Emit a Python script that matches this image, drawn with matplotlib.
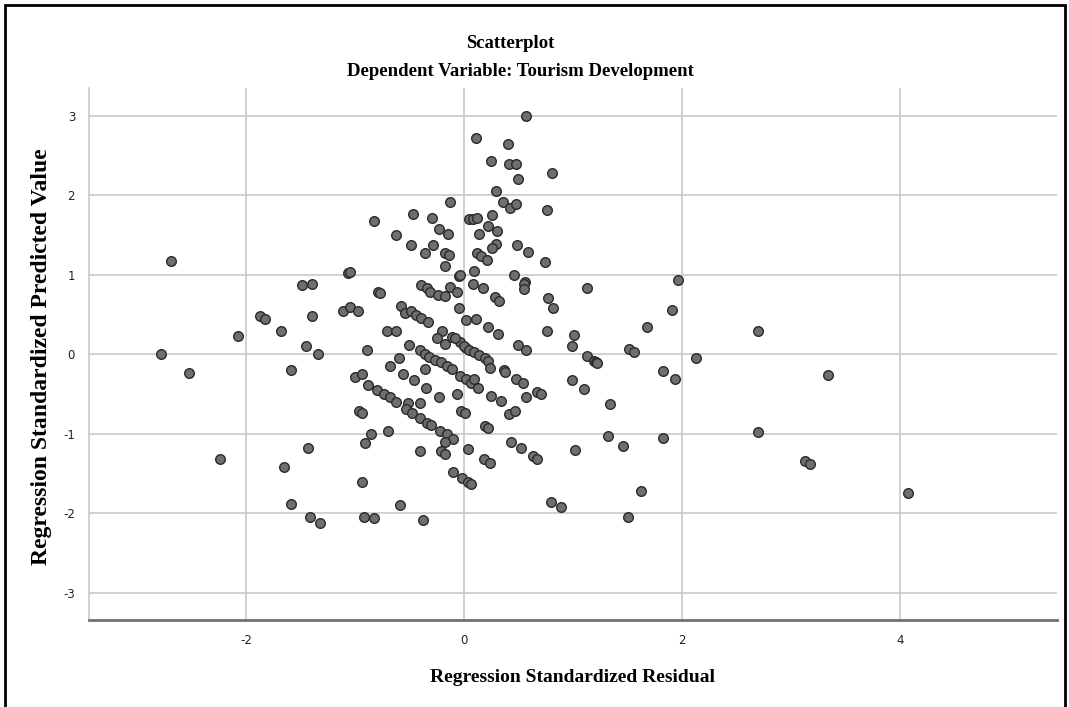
import numpy as np
import matplotlib.pyplot as plt
from matplotlib.patches import Rectangle

plt.rcParams['axes.unicode_minus'] = False

# standardized residual (x) and standardized predicted value (y)
resid = [
    -2.78, -2.69, -2.52, -2.24, -2.07, -1.87, -1.83, -1.68, -1.49, -1.39,
    -1.39, -1.45, -1.34, -1.59, -1.11, -1.06, -1.05, -1.43, -1.65, -1.59,
    -1.41, -1.32,
    -0.13, -0.83, -0.47, -0.29, -0.23, -0.15, -0.62, -0.49, -0.28, -0.36,
    -0.17, -0.14, -0.17, -0.05, -1.05, 0.05,
    0.57, 0.11, 0.40, 0.25, 0.41, 0.48, 0.50, 0.81, 0.29, 0.36,
    0.42, 0.48, 0.76, 0.08, 0.12, 0.26, 0.22, 0.30, 0.14, 0.29,
    0.26, 0.49, 0.59, 0.12, 0.16, 0.21, 0.74, -0.04, 0.09, 0.46,
    0.08, 0.17, 0.56, 0.55, 1.13,
    -0.79, -0.77, -0.97, -0.39, -0.34, -0.31, -0.24, -0.17, -0.13, -0.06,
    -0.05, 0.02, -0.58, -0.54, -0.49, -0.44, -0.39, -0.33, -0.71, -0.62,
    -0.89, -0.50, -0.60, -0.68, -0.40, -0.36, -0.32, -0.27, -0.21, -0.16,
    -0.11, -0.04, 0.02, -0.20, -0.11, -0.17, -0.25, -0.04, 0.02, -0.36,
    -0.56, -0.46, -0.35, -0.23, -0.06, -1.00, -0.94, -0.88, -0.80, -0.73,
    -0.68, -0.62, -0.51, -0.40, -0.96, -0.94,
    0.28, 0.32, 0.55, 0.77, 0.82, 0.11, 0.22, 0.31, 0.76, 1.01,
    0.99, 0.50, 0.57, 1.13, 1.19, -0.08, 0.00, 0.05, 0.09, 0.14,
    0.19, 0.22, 0.24, 0.37, 0.38, 0.48, 0.54, 0.99, 1.10, 0.06,
    0.09, 0.13, 0.25, 0.34, 0.57, 0.67, 0.71,
    -0.53, -0.48, -0.40, -0.34, -0.30, -0.22, -0.16, -0.10, -0.17, -0.03,
    0.01, -0.85, -0.91, -0.70, -0.40, -0.21, -0.17, 0.04, -0.10, -0.02,
    0.04, -0.94, -0.59, -0.92, -0.83, -0.38,
    0.41, 0.47, 0.19, 0.22, 0.43, 0.52, 0.63, 0.67, 0.18, 0.24,
    1.02, 0.06, 0.80, 0.89,
    1.96, 1.91, 1.68, 2.70, 1.21, 1.22, 1.51, 1.56, 2.13, 1.83,
    1.94, 1.34, 1.32, 1.46, 1.83, 2.70, 1.62, 1.50,
    3.34, 3.13, 3.17, 4.07,
]
pred = [
    0.01, 1.18, -0.23, -1.32, 0.23, 0.48, 0.44, 0.30, 0.87, 0.89,
    0.48, 0.10, 0.01, -0.19, 0.54, 1.02, 0.59, -1.18, -1.41, -1.88,
    -2.04, -2.12,
    1.92, 1.68, 1.77, 1.72, 1.58, 1.51, 1.50, 1.37, 1.37, 1.27,
    1.27, 1.25, 1.11, 0.99, 1.03, 1.70,
    3.00, 2.72, 2.64, 2.43, 2.40, 2.40, 2.21, 2.28, 2.06, 1.92,
    1.84, 1.89, 1.82, 1.70, 1.71, 1.75, 1.61, 1.55, 1.51, 1.39,
    1.34, 1.38, 1.29, 1.28, 1.24, 1.19, 1.16, 1.00, 1.05, 1.00,
    0.89, 0.83, 0.91, 0.88, 0.84,
    0.79, 0.77, 0.54, 0.87, 0.83, 0.79, 0.75, 0.74, 0.85, 0.78,
    0.58, 0.43, 0.61, 0.52, 0.54, 0.49, 0.46, 0.41, 0.30, 0.30,
    0.05, 0.12, -0.05, -0.15, 0.05, 0.00, -0.03, -0.07, -0.10, -0.14,
    -0.18, -0.27, -0.31, 0.29, 0.22, 0.13, 0.20, 0.15, 0.08, -0.18,
    -0.25, -0.32, -0.42, -0.53, -0.50, -0.28, -0.25, -0.39, -0.45, -0.50,
    -0.54, -0.60, -0.61, -0.61, -0.71, -0.74,
    0.72, 0.67, 0.82, 0.71, 0.58, 0.45, 0.34, 0.26, 0.29, 0.25,
    0.10, 0.12, 0.05, -0.02, -0.08, 0.20, 0.10, 0.06, 0.03, -0.01,
    -0.05, -0.08, -0.17, -0.20, -0.22, -0.31, -0.36, -0.32, -0.43, -0.36,
    -0.31, -0.42, -0.52, -0.59, -0.54, -0.47, -0.50,
    -0.69, -0.74, -0.80, -0.86, -0.89, -0.96, -1.00, -1.06, -1.10, -0.71,
    -0.74, -1.00, -1.12, -0.96, -1.22, -1.22, -1.25, -1.19, -1.48, -1.55,
    -1.61, -1.60, -1.90, -2.04, -2.06, -2.08,
    -0.75, -0.71, -0.90, -0.93, -1.10, -1.18, -1.28, -1.32, -1.31, -1.36,
    -1.20, -1.63, -1.85, -1.92,
    0.94, 0.56, 0.34, 0.30, -0.10, -0.11, 0.07, 0.03, -0.05, -0.21,
    -0.31, -0.63, -1.03, -1.15, -1.05, -0.97, -1.72, -2.04,
    -0.26, -1.34, -1.38, -1.74,
]

xticks = [-2, 0, 2, 4]
yticks = [-3, -2, -1, 0, 1, 2, 3]

W, H = 1069, 707
fig = plt.figure(figsize=(W / 100, H / 100), dpi=100)
ax = fig.add_axes([89 / W, 1 - 620 / H, (1057 - 89) / W, (620 - 88) / H])

ax.scatter(resid, pred, s=48, facecolor='#6e6e6e', edgecolor='#2a2a2a',
           linewidths=1.0, zorder=3)

ax.set_xlim(-3.44, 5.44)
ax.set_ylim(-3.34, 3.35)
ax.set_xticks(xticks)
ax.set_yticks(yticks)
ax.grid(True, color='#c8c8c8', linewidth=1.2)
ax.set_axisbelow(True)
ax.tick_params(length=0, labelsize=8.5, labelcolor='#222222', pad=10)
for s in ['top', 'right']:
    ax.spines[s].set_visible(False)
ax.spines['left'].set_color('#c8c8c8')
ax.spines['left'].set_linewidth(1.2)
ax.spines['bottom'].set_color('#707070')
ax.spines['bottom'].set_linewidth(2)

serif = ['Liberation Serif', 'DejaVu Serif']
fig.text(573 / W, 1 - 677 / H, 'Regression Standardized Residual',
         family=serif, fontweight='bold', fontsize=14, ha='center', va='center')
fig.text(42 / W, 1 - 357 / H, 'Regression Standardized Predicted Value',
         family=serif, fontweight='bold', fontsize=17, rotation=90,
         ha='center', va='center')

fig.text(510 / W, 1 - 43 / H, 'Scatterplot', family=serif, fontweight='bold',
         fontsize=13.5, ha='center', va='center')
fig.text(520 / W, 1 - 72 / H, 'Dependent Variable: Tourism Development',
         family=serif, fontweight='bold', fontsize=13.5, ha='center', va='center')

# outer frame
fig.patches.append(Rectangle((5 / W, -0.02), (1065 - 5) / W, 1 - 5 / H + 0.02,
                             transform=fig.transFigure, fill=False,
                             edgecolor='black', linewidth=2))

fig.savefig('out.png', dpi=100)
